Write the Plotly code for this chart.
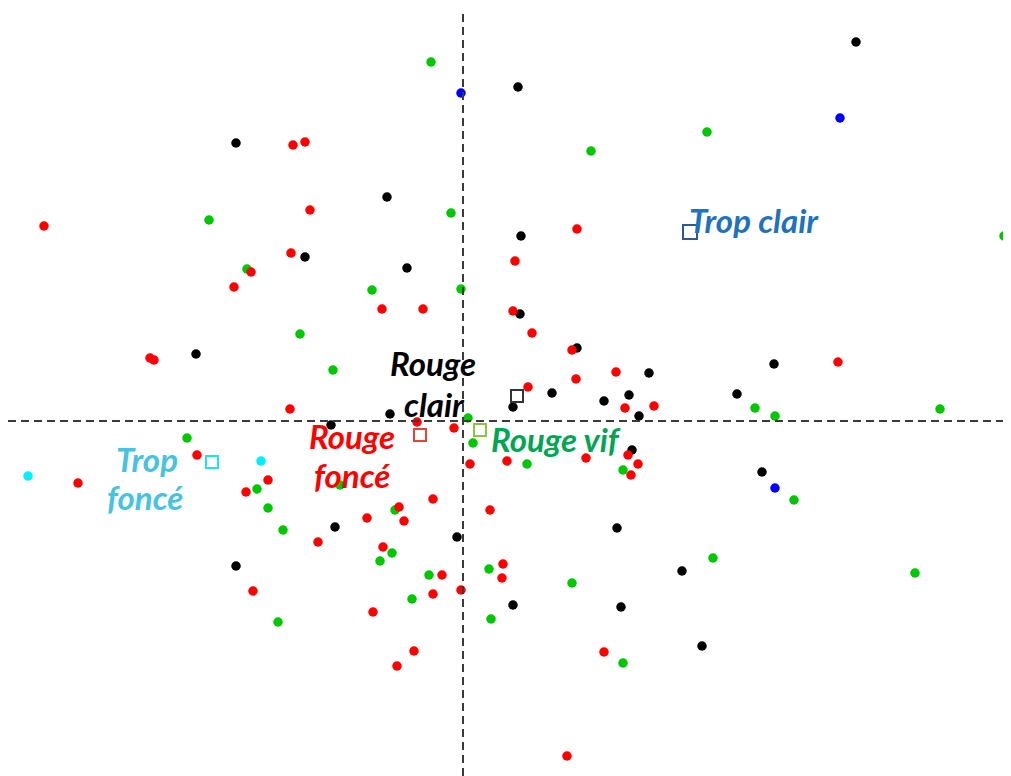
import plotly.graph_objects as go

# Factor-map coordinates (arbitrary units, origin at the crossing of the axes)
black_x = [393, 55, -227, -76, 58, -158, -56, 57, -267, 114, 186, 311, 89, 141, 166, 176, 274, 50, -73, -132,
           299, 154, -128, -6, -227, 219, 50, 158, 239, 169]
black_y = [379, 334, 278, 224, 185, 164, 153, 107, 67, 73, 48, 57, 28, 20, 26, 5, 27, 14, 7, -4,
           -51, -107, -106, -116, -145, -150, -184, -186, -225, -29]

blue_x = [-2, 377, 312]
blue_y = [328, 303, -67]

cyan_x = [-435, -202]
cyan_y = [-55, -40]

green_x = [-32, 128, -12, -91, -2, -130, 244, 541, -254, -216, -163, 292, 312, 477, 331, 250, 452, -276,
           -206, -195, -180, -185, -123, -68, -71, -83, -34, -51, 5, 10, 64, 26, 28, 109, 160, 160]
green_y = [359, 270, 208, 131, 132, 51, 289, 185, 201, 152, 87, 13, 5, 12, -79, -137, -152, -17,
           -68, -87, -109, -201, -64, -89, -132, -140, -154, -178, 3, -22, -43, -148, -198, -162, -49, -242]

red_x = [-419, -170, -158, -153, -172, -212, -229, -313, -309, 114, 52, -81, -40, 50, 69, 109, 153, 113, 65,
         375, -173, -266, -385, -195, -217, -145, -210, -46, -9, 7, 44, 123, 165, 175, 168, 162, 191,
         -30, -64, -96, -59, 27, -80, -21, -30, -2, 40, 39, -90, -49, -66, 141, 104]
red_y = [195, 276, 279, 211, 168, 149, 134, 63, 61, 192, 160, 112, 112, 110, 88, 71, 49, 42, 34,
         59, 12, -34, -62, -59, -71, -121, -170, -1, -7, -43, -40, -37, -34, -43, -54, 13, 15,
         -78, -86, -97, -100, -89, -126, -154, -173, -169, -143, -157, -191, -230, -245, -231, -335]

# Category centroids (squares)
cat_names = ["Trop clair", "Rouge clair", "Rouge foncé", "Rouge vif", "Trop foncé"]
cat_x = [227, 54, -43, 17, -251]
cat_y = [189, 25, -14, -9, -41]
cat_square_colors = ["#2F5A8C", "#333333", "#E8403A", "#8CC63F", "#1FE3F0"]

# Label lines: (text, x, y, colour)
label_text = ["Trop clair", "Rouge", "clair", "Rouge", "foncé", "Rouge vif", "Trop", "foncé"]
label_x = [291, -30, -29, -111, -111, 93, -316, -318]
label_y = [201, 58, 17, -15, -54, -18, -38, -76]
label_colors = ["#1F72BD", "#000000", "#000000", "#FF0000", "#FF0000", "#00A651", "#45C3E0", "#45C3E0"]

fig = go.Figure()

def dots(xs, ys, color):
    fig.add_trace(go.Scatter(x=xs, y=ys, mode="markers", cliponaxis=False,
                             marker=dict(color=color, size=9.5, line=dict(width=0)),
                             showlegend=False, hoverinfo="skip"))

dots(black_x, black_y, "#000000")
dots(green_x, green_y, "#00C800")
dots(red_x, red_y, "#FF0000")
dots(blue_x, blue_y, "#0000FF")
dots(cyan_x, cyan_y, "#00F0FF")

for i, name in enumerate(cat_names):
    fig.add_trace(go.Scatter(x=[cat_x[i]], y=[cat_y[i]], mode="markers", name=name,
                             marker=dict(symbol="square-open", size=12 if i else 14,
                                         color=cat_square_colors[i], line=dict(width=2)),
                             showlegend=False, hoverinfo="skip"))

for t, x, y, c in zip(label_text, label_x, label_y, label_colors):
    fig.add_annotation(x=x, y=y, text="<b><i>" + t + "</i></b>", showarrow=False,
                       xanchor="center", yanchor="middle",
                       font=dict(family="Lato, Carlito, sans-serif", size=33, color=c))

# Dashed axes through the origin
fig.add_shape(type="line", x0=0, x1=0, y0=-355, y1=409, line=dict(color="#3a3a3a", width=2, dash="8px,5px"))
fig.add_shape(type="line", x0=-455, x1=548, y0=0, y1=0, line=dict(color="#3a3a3a", width=2, dash="8px,5px"))

# The page body adds an 8px offset; the plotting area is sized to compensate
fig.update_layout(
    width=1003, height=768,
    margin=dict(l=0, r=0, t=0, b=0),
    paper_bgcolor="white", plot_bgcolor="white",
    xaxis=dict(range=[-455, 548], visible=False, showgrid=False, zeroline=False),
    yaxis=dict(range=[-355, 413], visible=False, showgrid=False, zeroline=False),
)

fig.write_html("out.html")
